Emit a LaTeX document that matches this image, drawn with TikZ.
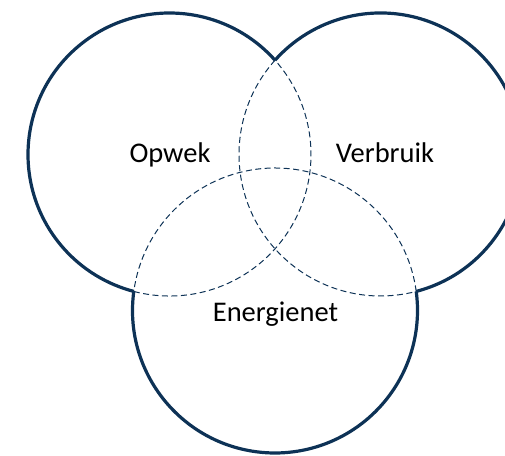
\documentclass[tikz,border=0pt]{standalone}
\usepackage{fontspec}
\setmainfont{Carlito}
\definecolor{navy}{RGB}{13,50,86}
\begin{document}
\begin{tikzpicture}[x=1pt,y=1pt,
  outer/.style={draw=navy,line width=3.2pt},
  inner/.style={draw=navy,line width=1pt,dash pattern=on 6pt off 3.5pt},
  lbl/.style={anchor=base,font=\fontsize{28.5}{31}\selectfont,text=black,inner sep=0pt}]
\useasboundingbox (0,0) rectangle (505,455);
\clip (0,0) rectangle (505,455);
\coordinate (L) at (169.5,300.5);
\coordinate (R) at (380.5,300.5);
\coordinate (B) at (275,144.5);
% left circle
\draw[outer] (L) ++(41.8:141.5) arc[start angle=41.8,end angle=255.4,radius=141.5];
\draw[inner] (L) ++(-104.6:141.5) arc[start angle=-104.6,end angle=41.8,radius=141.5];
% right circle
\draw[outer] (R) ++(-75.4:141.5) arc[start angle=-75.4,end angle=138.2,radius=141.5];
\draw[inner] (R) ++(138.2:141.5) arc[start angle=138.2,end angle=284.6,radius=141.5];
% bottom circle
\draw[outer] (B) ++(172.3:142.5) arc[start angle=172.3,end angle=367.7,radius=142.5];
\draw[inner] (B) ++(7.7:142.5) arc[start angle=7.7,end angle=172.3,radius=142.5];
\node[lbl] (opwek) at (170,292) {Opwek};
\node[lbl] (verbruik) at (385,292) {Verbruik};
\node[lbl] (energienet) at (275.5,134) {Energienet};
\end{tikzpicture}
\end{document}
